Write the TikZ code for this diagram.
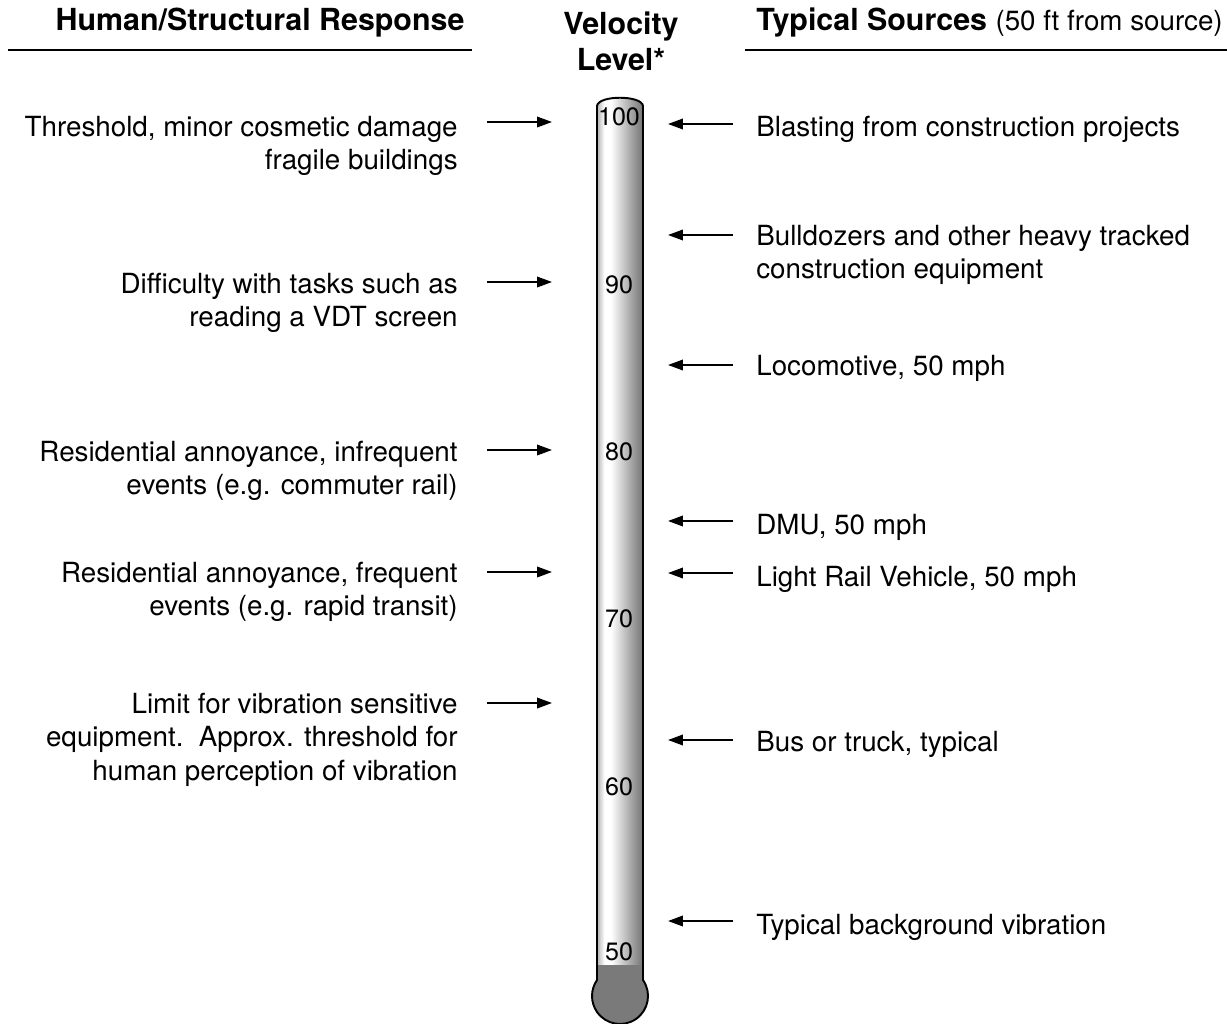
\documentclass[tikz,border=0pt]{standalone}
\usepackage{fontspec}
\setmainfont{TeX Gyre Heros}
\usetikzlibrary{arrows.meta}
\pgfdeclarehorizontalshading{tube}{100bp}{color(0bp)=(black!30); color(25bp)=(black!30); color(33bp)=(white); color(40bp)=(white); color(62bp)=(black!35); color(75bp)=(black!55); color(100bp)=(black!55)}
\begin{document}
\begin{tikzpicture}[x=0.02cm, y=-0.02cm, >={Triangle[length=8.5pt,width=6pt]},
  txt/.style={inner sep=0pt, font=\fontsize{15.8}{18.9}\selectfont},
  head/.style={inner sep=0pt, font=\fontsize{17.3}{20.5}\selectfont\bfseries},
  tick/.style={inner sep=0pt, font=\fontsize{14.3}{17}\selectfont},
  arr/.style={->, line width=1pt}]
	\useasboundingbox (0,0) rectangle (1227,1024);
	% headings
	\node[head] (hresp) at (260,23) {Human/Structural Response};
	\node[head, align=center] (hvel) at (621,41) {Velocity\\Level*};
	\node[head, anchor=west] (hsrc) at (756,23) {Typical Sources {\fontsize{15.8}{18}\selectfont\mdseries(50 ft from source)}};
	\coordinate (ra) at (8,50); \coordinate (rb) at (472,50);
	\coordinate (sa) at (745,50); \coordinate (sb) at (1227,50);
	\draw[line width=1.2pt] (ra) -- (rb);
	\draw[line width=1.2pt] (sa) -- (sb);
	% thermometer
	\shade[shading=tube] (597,968) -- (597,106) .. controls (598,95) and (642,95) .. (643,106) -- (643,968) -- cycle;
	\fill[black!52] (597,965) rectangle (643,985);
	\fill[black!52] (620,996) circle (28);
	\draw[line width=1.1pt] (597,980) -- (597,106) .. controls (598,95) and (642,95) .. (643,106) -- (643,980)
		arc[start angle=-34.8, end angle=214.8, radius=28];
	\foreach \v/\y in {100/117,90/285,80/452,70/619,60/787,50/952}
		\node[tick] (t\v) at (619,\y) {\v};
	% left column
	\node[txt, anchor=north east, align=right] (l1) at (458,116) {Threshold, minor cosmetic damage\\fragile buildings};
	\node[txt, anchor=north east, align=right] (l2) at (458,273) {Difficulty with tasks such as\\reading a VDT screen};
	\node[txt, anchor=north east, align=right] (l3) at (458,441) {Residential annoyance, infrequent\\events (e.g. commuter rail)};
	\node[txt, anchor=north east, align=right] (l4) at (458,562) {Residential annoyance, frequent\\events (e.g. rapid transit)};
	\node[txt, anchor=north east, align=right] (l5) at (458,693) {Limit for vibration sensitive\\equipment.\ \ Approx. threshold for\\human perception of vibration};
	\foreach \y [count=\i] in {122,282,450,572,703} {
		\coordinate (la\i) at (487,\y);
		\coordinate (lb\i) at (552,\y);
		\draw[arr] (la\i) -- (lb\i);
	}
	% right column
	\node[txt, anchor=north west] (r1) at (756,116) {Blasting from construction projects};
	\node[txt, anchor=north west, align=left] (r2) at (756,225) {Bulldozers and other heavy tracked\\construction equipment};
	\node[txt, anchor=north west] (r3) at (756,355) {Locomotive, 50 mph};
	\node[txt, anchor=north west] (r4) at (756,514) {DMU, 50 mph};
	\node[txt, anchor=north west] (r5) at (756,566) {Light Rail Vehicle, 50 mph};
	\node[txt, anchor=north west] (r6) at (756,731) {Bus or truck, typical};
	\node[txt, anchor=north west] (r7) at (756,914) {Typical background vibration};
	\foreach \y [count=\i] in {124,235,365,521,573,740,921} {
		\coordinate (ra\i) at (733,\y);
		\coordinate (rb\i) at (668,\y);
		\draw[arr] (ra\i) -- (rb\i);
	}
\end{tikzpicture}
\end{document}
